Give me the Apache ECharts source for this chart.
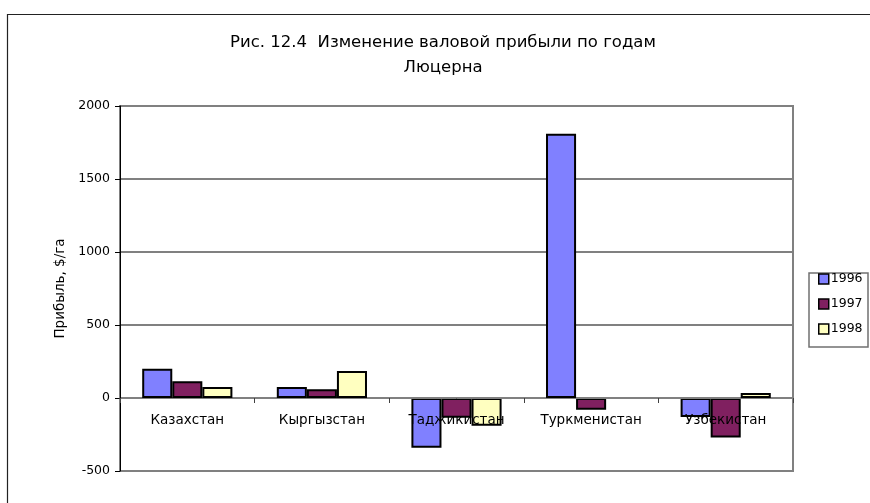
<!DOCTYPE html>
<html>
<head>
<meta charset="utf-8">
<script src="https://cdn.jsdelivr.net/npm/echarts@6/dist/echarts.min.js"></script>
<style>
html,body{margin:0;padding:0;background:#fff;}
#chart{width:870px;height:503px;}
</style>
</head>
<body>
<div id="chart"></div>
<script>
const categories = ['Казахстан', 'Кыргызстан', 'Таджикистан', 'Туркменистан', 'Узбекистан'];
const seriesNames = ['1996', '1997', '1998'];
const values1996 = [200, 75, -340, 1810, -130];
const values1997 = [115, 60, -135, -80, -270];
const values1998 = [75, 185, -190, null, 35];
const yTicks = { min: -500, max: 2000, interval: 500 };
const titleLine1 = 'Рис. 12.4  Изменение валовой прибыли по годам';
const titleLine2 = 'Люцерна';
const yAxisName = 'Прибыль, $/га';

const colors = ['#8080FF', '#802060', '#FFFFC0'];
const FONT = "'DejaVu Sans', 'Liberation Sans', Arial, sans-serif";
const seriesData = [values1996, values1997, values1998];

const W = 870, H = 503;
const gridTop = 106, gridBottom = 32;
const plotH = H - gridTop - gridBottom;
// place the category axis on the value 0 (as in the reference)
const zeroOffset = -plotH * (0 - yTicks.min) / (yTicks.max - yTicks.min);

const chart = echarts.init(document.getElementById('chart'));
chart.setOption({
  animation: false,
  textStyle: { fontFamily: FONT },
  title: [
    { text: titleLine1, left: 443, top: 34, textAlign: 'center', padding: 0,
      textStyle: { fontFamily: FONT, fontSize: 16.5, fontWeight: 'normal', color: '#000' } },
    { text: titleLine2, left: 443, top: 59, textAlign: 'center', padding: 0,
      textStyle: { fontFamily: FONT, fontSize: 16.5, fontWeight: 'normal', color: '#000' } }
  ],
  graphic: [
    { type: 'rect', silent: true, z: -10,
      shape: { x: 7.5, y: 14.5, width: 1000, height: 600 },
      style: { fill: 'none', stroke: '#222', lineWidth: 1.2 } },
    { type: 'rect', silent: true, z: -5,
      shape: { x: 809, y: 273, width: 59, height: 74 },
      style: { fill: '#fff', stroke: '#707070', lineWidth: 1.5 } }
  ],
  legend: {
    orient: 'vertical', left: 818, top: 272, padding: 0,
    itemWidth: 10, itemHeight: 10, itemGap: 11, icon: 'rect',
    data: seriesNames,
    itemStyle: { borderColor: '#000', borderWidth: 1.5 },
    textStyle: { fontFamily: FONT, fontSize: 12.5, color: '#000', lineHeight: 14, padding: [0,0,0,-3] }
  },
  grid: {
    left: 120, right: 77, top: gridTop, bottom: gridBottom,
    show: true, borderColor: '#808080', borderWidth: 2, backgroundColor: '#fff',
    outerBoundsMode: 'none'
  },
  xAxis: {
    type: 'category', data: categories, z: 10,
    offset: zeroOffset,
    axisLine: { onZero: false, lineStyle: { color: '#808080', width: 1 } },
    axisTick: { show: true, length: 5, lineStyle: { color: '#404040' } },
    axisLabel: { interval: 0, margin: 15, fontSize: 13.5, color: '#000', fontFamily: FONT },
    splitLine: { show: false }
  },
  yAxis: {
    type: 'value', min: yTicks.min, max: yTicks.max, interval: yTicks.interval,
    name: yAxisName, nameLocation: 'middle', nameGap: 52, nameRotate: 90,
    nameTextStyle: { fontSize: 13.5, color: '#000', fontFamily: FONT },
    axisLine: { show: true, lineStyle: { color: '#000', width: 1 } },
    axisTick: { show: true, length: 5, lineStyle: { color: '#000' } },
    axisLabel: { margin: 10, fontSize: 12.5, color: '#000', fontFamily: FONT,
      formatter: v => String(v) },
    splitLine: { show: true, lineStyle: { color: '#808080', width: 2 } }
  },
  series: seriesNames.map((name, i) => ({
    name: name, type: 'bar', data: seriesData[i],
    barGap: '0%', barCategoryGap: '33%',
    itemStyle: { color: colors[i], borderColor: '#000', borderWidth: 2 }
  }))
});
</script>
</body>
</html>
